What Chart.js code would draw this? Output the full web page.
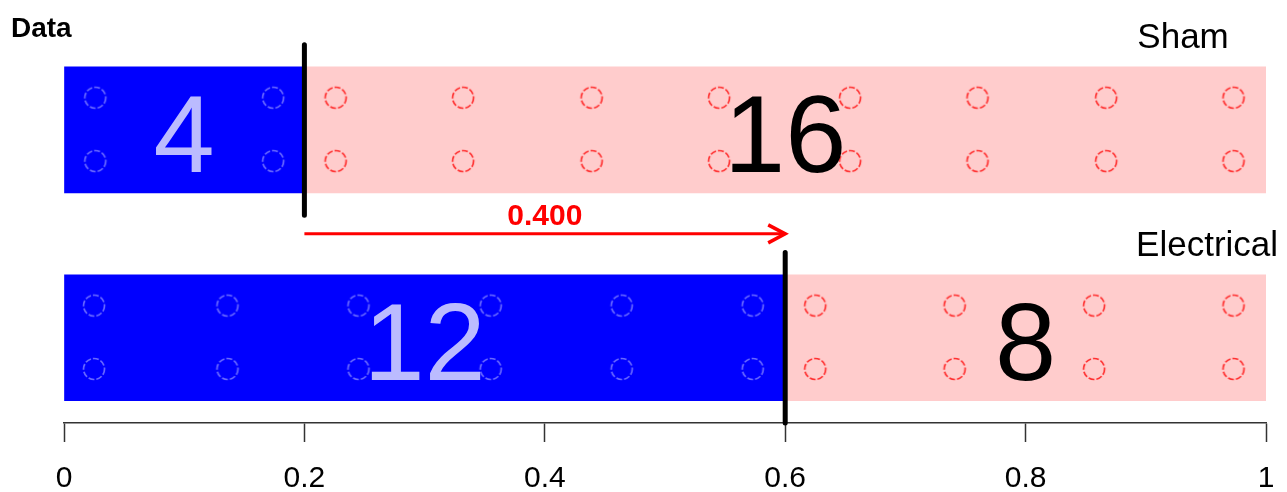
<!DOCTYPE html>
<html>
<head>
<meta charset="utf-8">
<script src="https://cdn.jsdelivr.net/npm/chart.js@4"></script>
<style>
  body { margin: 0; background: #fff; }
  #wrap { width: 1287px; height: 492px; }
</style>
</head>
<body>
<div id="wrap"><canvas id="chart"></canvas></div>
<script>
// data
const groups = ['Sham', 'Electrical'];
const groupRows = [1, 3];
const yesCounts = [4, 12];
const noCounts = [16, 8];
const tickValues = [0, 0.2, 0.4, 0.6, 0.8, 1];
const tickLabels = ['0', '0.2', '0.4', '0.6', '0.8', '1'];

// dot positions (proportion axis)
const shamYesDots = [0.026, 0.174];
const shamNoDots = [0.226, 0.332, 0.439, 0.545, 0.654, 0.760, 0.867, 0.973];
const elecYesDots = [0.025, 0.136, 0.245, 0.355, 0.464, 0.573];
const elecNoDots = [0.625, 0.741, 0.857, 0.973];
const dotRows = [-0.31, 0.3];
const groupLabelX = [0.931, 0.951];

const FONT = "'Liberation Sans', Arial, sans-serif";
const BLUE = '#0000ff';
const PINK = '#ffcccc';

const props = yesCounts.map((v, i) => v / (v + noCounts[i]));

function ring(color) {
  const c = document.createElement('canvas');
  c.width = 26; c.height = 26;
  const g = c.getContext('2d');
  g.strokeStyle = color;
  g.lineWidth = 1.7;
  g.setLineDash([6, 2]);
  g.beginPath();
  g.arc(13, 13, 10.5, 0, Math.PI * 2);
  g.stroke();
  return c;
}
const ringBlue = ring('#6a6aff');
const ringRed = ring('#ff3030');

function dots(xs, row, img) {
  const pts = [];
  dotRows.forEach(off => xs.forEach(x => pts.push({ x: x, y: row + off })));
  return {
    type: 'scatter', data: pts, pointStyle: img, pointRadius: 10,
    showLine: false, order: 2
  };
}

function divider(x, y0, y1) {
  return {
    type: 'scatter', data: [{ x: x, y: y0 }, { x: x, y: y1 }],
    showLine: true, borderColor: '#000', borderWidth: 5, borderCapStyle: 'round',
    pointRadius: 0, clip: false, order: 1
  };
}

const annot = {
  id: 'annot',
  afterDatasetsDraw(chart) {
    const ctx = chart.ctx;
    const xs = chart.scales.x, ys = chart.scales.y;
    ctx.save();
    // counts inside the bars
    ctx.font = '110px ' + FONT;
    ctx.textAlign = 'center';
    ctx.textBaseline = 'alphabetic';
    groups.forEach((g, i) => {
      const yb = ys.getPixelForValue(groupRows[i]) + 42;
      ctx.fillStyle = '#bbbbff';
      ctx.fillText(String(yesCounts[i]), xs.getPixelForValue(props[i] / 2), yb);
      ctx.fillStyle = '#000';
      ctx.fillText(String(noCounts[i]), xs.getPixelForValue((props[i] + 1) / 2), yb);
    });
    // group names
    ctx.font = '35px ' + FONT;
    ctx.fillStyle = '#000';
    groups.forEach((g, i) => {
      ctx.fillText(g, xs.getPixelForValue(groupLabelX[i]), ys.getPixelForValue(groupRows[i] - 0.79));
    });
    // difference arrow
    const ay = ys.getPixelForValue((groupRows[0] + groupRows[1]) / 2);
    const ax0 = xs.getPixelForValue(props[0]);
    const ax1 = xs.getPixelForValue(props[1]);
    ctx.strokeStyle = '#ff0000';
    ctx.lineWidth = 3;
    ctx.beginPath();
    ctx.moveTo(ax0, ay);
    ctx.lineTo(ax1, ay);
    ctx.stroke();
    ctx.lineWidth = 3.5;
    ctx.beginPath();
    ctx.moveTo(ax1 - 17, ay - 9);
    ctx.lineTo(ax1, ay);
    ctx.lineTo(ax1 - 17, ay + 9);
    ctx.stroke();
    ctx.fillStyle = '#ff0000';
    ctx.font = 'bold 30px ' + FONT;
    ctx.fillText((props[1] - props[0]).toFixed(3), (ax0 + ax1) / 2, ay - 9);
    // heading
    ctx.fillStyle = '#000';
    ctx.textAlign = 'left';
    ctx.font = 'bold 28px ' + FONT;
    ctx.fillText('Data', 11, 37);
    ctx.restore();
  }
};

new Chart(document.getElementById('chart'), {
  type: 'bar',
  data: {
    datasets: [
      divider(props[0], groupRows[0] - 0.82, groupRows[0] + 0.82),
      divider(props[1], groupRows[1] - 0.82, 3.82),
      dots(shamYesDots, groupRows[0], ringBlue),
      dots(shamNoDots, groupRows[0], ringRed),
      dots(elecYesDots, groupRows[1], ringBlue),
      dots(elecNoDots, groupRows[1], ringRed),
      {
        type: 'bar', indexAxis: 'y', grouped: false, order: 3,
        data: groupRows.map((r, i) => ({ x: [0, props[i]], y: r })),
        backgroundColor: BLUE, barThickness: 126, maxBarThickness: 126
      },
      {
        type: 'bar', indexAxis: 'y', grouped: false, order: 3,
        data: groupRows.map((r, i) => ({ x: [props[i], 1], y: r })),
        backgroundColor: PINK, barThickness: 126, maxBarThickness: 126
      }
    ]
  },
  options: {
    indexAxis: 'y',
    responsive: true,
    maintainAspectRatio: false,
    animation: false,
    layout: { padding: { top: 26, left: 64, right: 21, bottom: 0 } },
    plugins: { legend: { display: false }, tooltip: { enabled: false } },
    scales: {
      x: {
        type: 'linear', min: 0, max: 1, offset: false,
        afterBuildTicks: s => { s.ticks = tickValues.map(v => ({ value: v })); },
        afterFit: s => { s.height = 69; s.paddingLeft = 0; s.paddingRight = 0; },
        grid: { display: true, drawOnChartArea: false, drawTicks: true, tickLength: 19, tickWidth: 1.5, tickColor: '#333', offset: false },
        border: { display: true, color: '#333', width: 1.5 },
        ticks: {
          autoSkip: false, maxRotation: 0, padding: 19, color: '#000',
          font: { family: FONT, size: 30 },
          callback: (v, i) => tickLabels[i]
        }
      },
      y: {
        type: 'linear', reverse: true, min: 0, max: 3.82, offset: false,
        display: false, grid: { offset: false }
      }
    }
  },
  plugins: [annot]
});
</script>
</body>
</html>
